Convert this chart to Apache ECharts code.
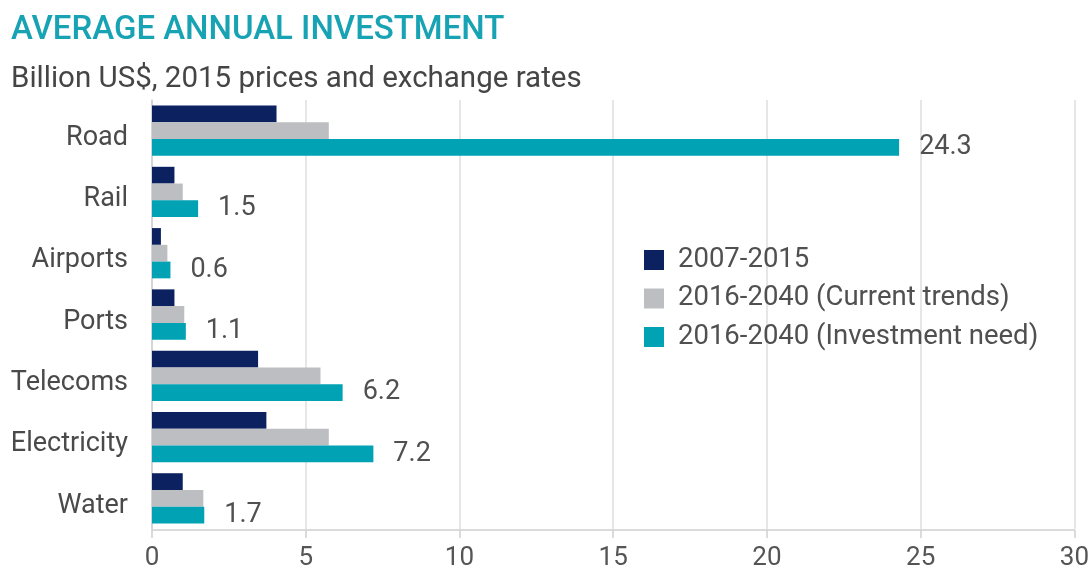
<!DOCTYPE html>
<html>
<head>
<meta charset="utf-8">
<title>Average annual investment</title>
<script src="https://cdn.jsdelivr.net/npm/echarts@6/dist/echarts.min.js"></script>
<style>
  html, body { margin: 0; padding: 0; background: #ffffff; }
  #chart { width: 1092px; height: 571px; }
</style>
</head>
<body>
<div id="chart"></div>
<script>
// Sectors, top to bottom
const categories = ['Road', 'Rail', 'Airports', 'Ports', 'Telecoms', 'Electricity', 'Water'];

// Billion US$, 2015 prices and exchange rates
const seriesNames = ['2007-2015', '2016-2040 (Current trends)', '2016-2040 (Investment need)'];
const historic = [4.05, 0.73, 0.29, 0.73, 3.45, 3.72, 1.0];
const currentTrends = [5.75, 1.0, 0.5, 1.05, 5.48, 5.75, 1.67];
const investmentNeed = [24.3, 1.5, 0.6, 1.1, 6.2, 7.2, 1.7];

const xTicks = [0, 5, 10, 15, 20, 25, 30];

const colors = ['#0b2160', '#bdbec2', '#00a2b3'];
const FONT = 'Roboto, "Noto Sans", sans-serif';

const chart = echarts.init(document.getElementById('chart'), null, { renderer: 'canvas' });

chart.setOption({
  animation: false,
  textStyle: { fontFamily: FONT },
  title: [
    {
      text: 'AVERAGE ANNUAL INVESTMENT',
      left: 11, top: 12, padding: 0,
      textStyle: { fontFamily: FONT, fontSize: 33, fontWeight: 500, color: '#17a3b3', lineHeight: 38 }
    },
    {
      text: 'Billion US$, 2015 prices and exchange rates',
      left: 11, top: 63, padding: 0,
      textStyle: { fontFamily: FONT, fontSize: 29.5, fontWeight: 'normal', color: '#454545', lineHeight: 34 }
    }
  ],
  legend: {
    orient: 'vertical',
    left: 644, top: 246, padding: 0,
    itemWidth: 20, itemHeight: 20, itemGap: 10.5,
    icon: 'rect',
    data: seriesNames,
    textStyle: { fontFamily: FONT, fontSize: 27.5, color: '#505050', padding: [0, 0, 0, 9] }
  },
  grid: { left: 152, right: 6, top: 100, bottom: 37, containLabel: false },
  xAxis: {
    type: 'value',
    min: xTicks[0], max: xTicks[xTicks.length - 1], interval: 5,
    offset: 1,
    axisLine: { show: true, lineStyle: { color: '#cfcfcf', width: 1.5 } },
    axisTick: { show: true, length: 8, lineStyle: { color: '#cfcfcf', width: 1.5 } },
    splitLine: { show: true, lineStyle: { color: '#dedede', width: 1.5 } },
    axisLabel: { fontFamily: FONT, fontSize: 26, color: '#555555', margin: 15 }
  },
  yAxis: {
    type: 'category',
    data: categories,
    inverse: true,
    axisLine: { show: true, lineStyle: { color: '#cfcfcf', width: 1.5 } },
    axisTick: { show: false },
    axisLabel: {
      fontFamily: FONT, fontSize: 27, color: '#4a4a4a', margin: 24,
      verticalAlign: 'top', lineHeight: 15
    }
  },
  series: [
    {
      name: seriesNames[0], type: 'bar', data: historic,
      itemStyle: { color: colors[0] },
      barGap: '0%', barCategoryGap: '18%'
    },
    {
      name: seriesNames[1], type: 'bar', data: currentTrends,
      itemStyle: { color: colors[1] },
      barGap: '0%', barCategoryGap: '18%'
    },
    {
      name: seriesNames[2], type: 'bar', data: investmentNeed,
      itemStyle: { color: colors[2] },
      barGap: '0%', barCategoryGap: '18%',
      label: {
        show: true, position: 'right', distance: 20,
        fontFamily: FONT, fontSize: 27, color: '#505050',
        formatter: p => p.value.toFixed(1)
      }
    }
  ]
});
</script>
</body>
</html>
